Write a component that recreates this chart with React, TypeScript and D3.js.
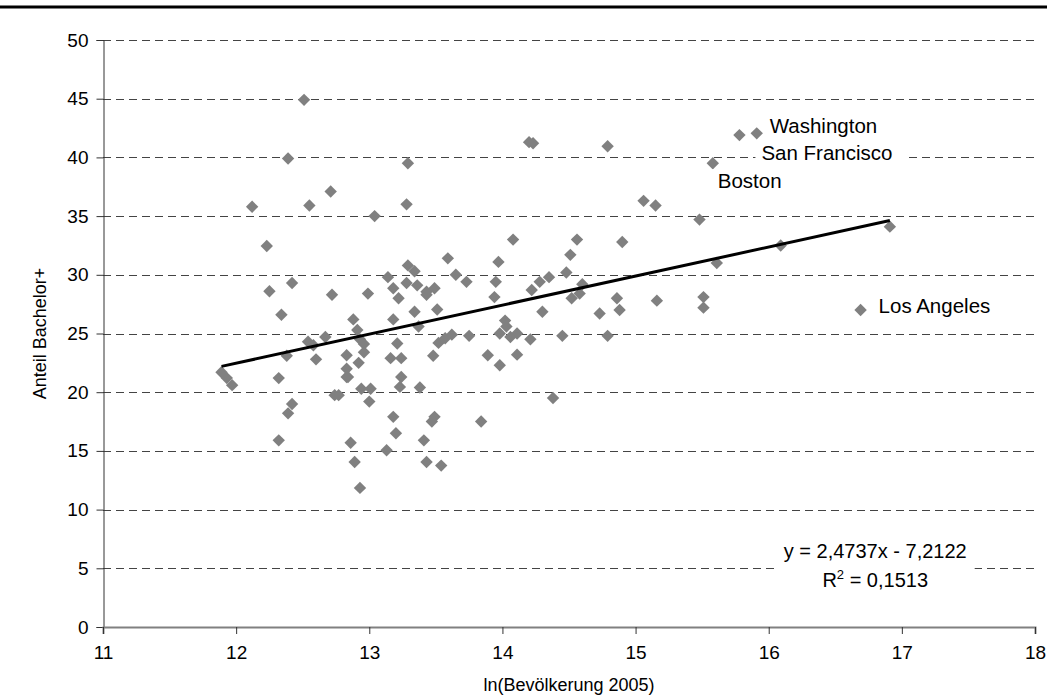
import React, { useRef, useEffect } from "react";
import * as d3 from "d3";

// ln(population 2005) and share of Bachelor+ per metro area
const lnPop = [
  11.89, 11.93, 11.97, 12.12, 12.23, 12.25, 12.32, 12.32, 12.34, 12.38,
  12.39, 12.39, 12.42, 12.42, 12.51, 12.55, 12.54, 12.58, 12.6, 12.67,
  12.71, 12.72, 12.74, 12.77, 12.83, 12.83, 12.84, 12.86, 12.88, 12.91,
  12.93, 12.96, 12.96, 12.89, 12.92, 12.93, 12.94, 13.01, 13.0, 12.99,
  13.04, 13.13, 13.14, 13.18, 13.22, 13.18, 13.21, 13.16, 13.24, 13.24,
  13.23, 13.18, 13.2, 13.28, 13.29, 13.28, 13.29, 13.34, 13.36, 13.43,
  13.49, 13.34, 13.37, 13.38, 13.41, 13.43, 13.54, 13.48, 13.49, 13.47,
  13.51, 13.52, 13.57, 13.62, 13.59, 13.65, 13.73, 13.75, 13.84, 13.89,
  13.94, 13.95, 13.97, 13.98, 14.02, 14.03, 13.98, 14.06, 14.11, 14.08,
  14.11, 14.2, 14.23, 14.21, 14.22, 14.28, 14.35, 14.3, 14.38, 14.45,
  14.48, 14.51, 14.52, 14.58, 14.6, 14.56, 14.73, 14.79, 14.79, 14.86,
  14.88, 14.9, 15.06, 15.15, 15.16, 15.48, 15.51, 15.51, 15.58, 15.61,
  15.78, 15.91, 16.09, 16.69, 16.91, 13.43, 12.83
];
const bachelor = [
  21.7, 21.2, 20.6, 35.8, 32.45, 28.6, 21.2, 15.9, 26.6, 23.1,
  39.9, 18.2, 19.0, 29.3, 44.9, 35.9, 24.3, 24.0, 22.8, 24.7,
  37.1, 28.3, 19.75, 19.75, 23.15, 22.0, 21.3, 15.7, 26.2, 25.3,
  24.5, 24.1, 23.4, 14.06, 22.5, 11.85, 20.3, 20.3, 19.2, 28.4,
  35.0, 15.06, 29.8, 28.85, 28.0, 26.2, 24.15, 22.9, 22.9, 21.3,
  20.45, 17.9, 16.5, 36.0, 39.5, 29.3, 30.8, 30.3, 29.1, 28.55,
  28.85, 26.85, 25.6, 20.4, 15.9, 14.06, 13.75, 23.1, 17.9, 17.5,
  27.05, 24.2, 24.6, 24.9, 31.4, 30.0, 29.4, 24.8, 17.5, 23.15,
  28.1, 29.4, 31.1, 22.3, 26.1, 25.6, 25.0, 24.7, 25.0, 33.0,
  23.2, 41.3, 41.2, 24.5, 28.7, 29.4, 29.8, 26.85, 19.5, 24.8,
  30.2, 31.7, 28.0, 28.4, 29.2, 33.0, 26.7, 40.95, 24.8, 28.0,
  27.0, 32.8, 36.3, 35.9, 27.8, 34.7, 28.1, 27.2, 39.5, 31.0,
  41.9, 42.05, 32.5, 27.0, 34.1, 28.3, 21.3
];

const xTicks = [11, 12, 13, 14, 15, 16, 17, 18];
const yTicks = [0, 5, 10, 15, 20, 25, 30, 35, 40, 45, 50];

// linear trend (Excel)
const slope = 2.4737;
const intercept = -7.2122;
const eqText = "y = 2,4737x - 7,2122";
const r2Text = "0,1513";

const cityNames = ["Washington", "San Francisco", "Boston", "Los Angeles"];
const cityLnPop = [15.91, 15.78, 15.58, 16.69];
const cityBachelor = [42.05, 41.9, 39.5, 27.0];
// label offsets from the point, px
const cityDx = [13, 22, 5, 18];
const cityDy = [0, 25, 25, 3];

const font = "'Liberation Sans', Arial, sans-serif";

const Chart = () => {
  const svgRef = useRef<SVGSVGElement>(null);

  useEffect(() => {
    const width = 1047;
    const height = 695;
    const margin = { top: 40, right: 12, bottom: 68, left: 103 };
    const svg = d3.select(svgRef.current);
    svg.selectAll("*").remove();

    const x = d3.scaleLinear().domain([11, 18]).range([margin.left, width - margin.right]);
    const y = d3.scaleLinear().domain([0, 50]).range([height - margin.bottom, margin.top]);

    // top rule
    svg.append("line")
      .attr("x1", 0).attr("x2", width)
      .attr("y1", 7).attr("y2", 7)
      .attr("stroke", "#000").attr("stroke-width", 3);

    // gridlines
    svg.append("g")
      .selectAll("line")
      .data(yTicks.filter(d => d > 0))
      .join("line")
      .attr("x1", x(11)).attr("x2", x(18))
      .attr("y1", d => Math.round(y(d)) + 0.5).attr("y2", d => Math.round(y(d)) + 0.5)
      .attr("stroke", "#444")
      .attr("stroke-dasharray", "8,5");

    // y axis
    const yAxis = svg.append("g")
      .attr("transform", `translate(${Math.round(x(11)) + 0.5},0)`)
      .call(d3.axisLeft(y).tickValues(yTicks).tickFormat(d3.format("d")).tickSize(7).tickPadding(8));
    yAxis.select(".domain").attr("stroke", "#333");
    yAxis.selectAll(".tick line").attr("stroke", "#333");
    yAxis.selectAll("text").attr("font-family", font).attr("font-size", 19).attr("fill", "#000");

    // x axis
    const xAxis = svg.append("g")
      .attr("transform", `translate(0,${y(0)})`)
      .call(d3.axisBottom(x).tickValues(xTicks).tickFormat(d3.format("d")).tickSize(7).tickPadding(12));
    xAxis.select(".domain").attr("stroke", "#808080").attr("stroke-width", 2);
    xAxis.selectAll(".tick line").attr("stroke", "#333");
    xAxis.selectAll("text").attr("font-family", font).attr("font-size", 19).attr("fill", "#000");

    // points
    const pts = d3.zip(lnPop, bachelor);
    const diamond = d3.symbol().type(d3.symbolDiamond2).size(98);
    svg.append("g")
      .selectAll("path")
      .data(pts)
      .join("path")
      .attr("transform", d => `translate(${x(d[0])},${y(d[1])})`)
      .attr("d", diamond)
      .attr("fill", "#808080");

    // trend line
    const xs = d3.extent(lnPop) as [number, number];
    svg.append("path")
      .datum(xs)
      .attr("fill", "none")
      .attr("stroke", "#000")
      .attr("stroke-width", 3)
      .attr("d", d3.line<number>().x(d => x(d)).y(d => y(slope * d + intercept)));

    // city labels
    const labels = svg.append("g");
    cityNames.forEach((name, i) => {
      const g = labels.append("g");
      const t = g.append("text")
        .attr("x", x(cityLnPop[i]) + cityDx[i])
        .attr("y", y(cityBachelor[i]) + cityDy[i])
        .attr("font-family", font).attr("font-size", 20.5)
        .text(name);
      const b = (t.node() as SVGTextElement).getBBox();
      g.insert("rect", "text")
        .attr("x", b.x - 6).attr("y", b.y).attr("width", b.width + 20).attr("height", b.height)
        .attr("fill", "#fff");
    });

    // equation box
    const eq = svg.append("g");
    const cx = x(16.8);
    const box = eq.append("rect").attr("fill", "#fff");
    eq.append("text")
      .attr("x", cx).attr("y", y(5.9))
      .attr("text-anchor", "middle")
      .attr("font-family", font).attr("font-size", 20)
      .text(eqText);
    const r2 = eq.append("text")
      .attr("x", cx).attr("y", y(3.4))
      .attr("text-anchor", "middle")
      .attr("font-family", font).attr("font-size", 20);
    r2.append("tspan").text("R");
    r2.append("tspan").attr("font-size", 13).attr("dy", -8).text("2");
    r2.append("tspan").attr("dy", 8).text(" = " + r2Text);
    const eb = (eq.node() as SVGGElement).getBBox();
    box.attr("x", eb.x - 8).attr("y", eb.y - 4).attr("width", eb.width + 16).attr("height", eb.height + 8);

    // axis titles
    svg.append("text")
      .attr("x", (x(11) + x(18)) / 2).attr("y", height - 4)
      .attr("text-anchor", "middle")
      .attr("font-family", font).attr("font-size", 18)
      .text("ln(Bevölkerung 2005)");
    svg.append("text")
      .attr("transform", `translate(46,${(y(0) + y(50)) / 2}) rotate(-90)`)
      .attr("text-anchor", "middle")
      .attr("font-family", font).attr("font-size", 18)
      .text("Anteil Bachelor+");
  }, []);

  return (
    <svg
      ref={svgRef}
      width={1047}
      height={695}
      style={{ position: "absolute", left: 0, top: 0, background: "#fff" }}
    />
  );
};

export default function App() {
  return <Chart />;
}
